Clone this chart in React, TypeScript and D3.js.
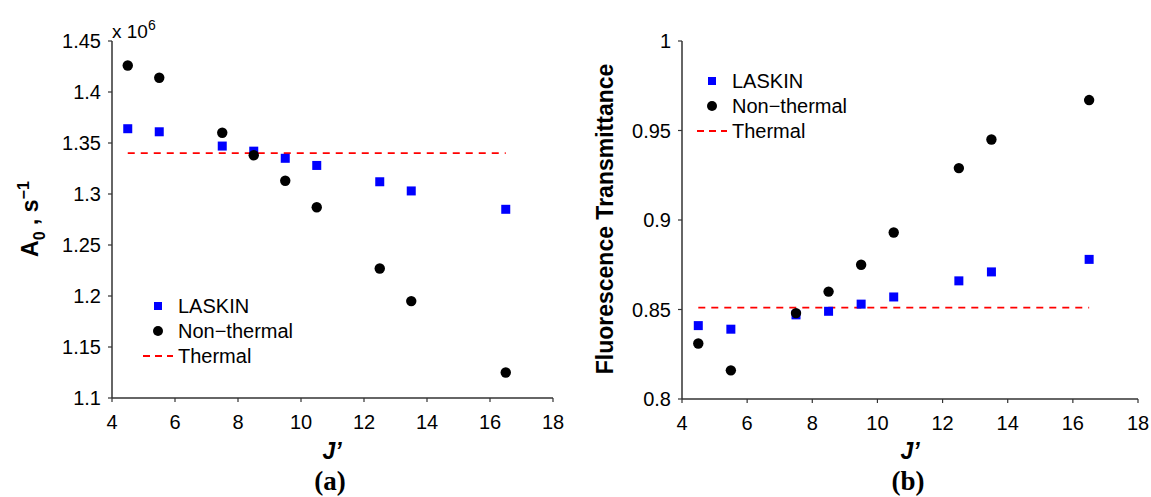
import React from "react";
import * as d3 from "d3";

const jValues = [4.5, 5.5, 7.5, 8.5, 9.5, 10.5, 12.5, 13.5, 16.5];
const aLaskin = [1.364, 1.361, 1.347, 1.342, 1.335, 1.328, 1.312, 1.303, 1.285];
const aNonThermal = [1.426, 1.414, 1.36, 1.338, 1.313, 1.287, 1.227, 1.195, 1.125];
const aThermal = 1.34;
const tLaskin = [0.841, 0.839, 0.847, 0.849, 0.853, 0.857, 0.866, 0.871, 0.878];
const tNonThermal = [0.831, 0.816, 0.848, 0.86, 0.875, 0.893, 0.929, 0.945, 0.967];
const tThermal = 0.851;
const xTicks = [4, 6, 8, 10, 12, 14, 16, 18];
const aTicks = [1.1, 1.15, 1.2, 1.25, 1.3, 1.35, 1.4, 1.45];
const tTicks = [0.8, 0.85, 0.9, 0.95, 1];
const legendLabels = ["LASKIN", "Non\u2212thermal", "Thermal"];

const FONT = "'Liberation Sans', Arial, sans-serif";
const SERIF = "'Liberation Serif', 'Times New Roman', serif";
const AXIS = "#333";

type PanelProps = {
  x0: number; x1: number; y0: number; y1: number;
  yDomain: [number, number]; yTicks: number[]; yFmt: (v: number) => string;
  laskin: number[]; nonThermal: number[]; thermal: number;
  legendX: number; legendY: number;
};

function Panel(p: PanelProps) {
  const x = d3.scaleLinear().domain([4, 18]).range([p.x0, p.x1]);
  const y = d3.scaleLinear().domain(p.yDomain).range([p.y1, p.y0]);
  const line = d3.line<number>().x((d) => x(d)).y(() => y(p.thermal));
  const thermalXs = [jValues[0], jValues[jValues.length - 1]];
  return (
    <g>
      <path d={line(thermalXs) || ""} stroke="#ff0000" strokeWidth={1.8} strokeDasharray="7,6" fill="none" />
      {jValues.map((j, i) => (
        <rect key={"s" + i} x={x(j) - 4.5} y={y(p.laskin[i]) - 4.5} width={9} height={9} fill="#0000ff" />
      ))}
      {jValues.map((j, i) => (
        <circle key={"c" + i} cx={x(j)} cy={y(p.nonThermal[i])} r={5.2} fill="#000" />
      ))}
      <line x1={p.x0} x2={p.x0} y1={p.y0} y2={p.y1} stroke={AXIS} strokeWidth={1.5} />
      <line x1={p.x0} x2={p.x1} y1={p.y1} y2={p.y1} stroke={AXIS} strokeWidth={1.5} />
      {xTicks.map((t) => (
        <g key={"xt" + t}>
          <line x1={x(t)} x2={x(t)} y1={p.y1} y2={p.y1 + 4} stroke={AXIS} strokeWidth={1.2} />
          <text x={x(t)} y={p.y1 + 31} textAnchor="middle" fontFamily={FONT} fontSize={20} fill="#000">{t}</text>
        </g>
      ))}
      {p.yTicks.map((t) => (
        <g key={"yt" + t}>
          <line x1={p.x0 - 4} x2={p.x0} y1={y(t)} y2={y(t)} stroke={AXIS} strokeWidth={1.2} />
          <text x={p.x0 - 11} y={y(t) + 7} textAnchor="end" fontFamily={FONT} fontSize={20} fill="#000">{p.yFmt(t)}</text>
        </g>
      ))}
      <g fontFamily={FONT} fontSize={20} fill="#000">
        <rect x={p.legendX - 4} y={p.legendY - 4} width={8} height={8} fill="#0000ff" />
        <text x={p.legendX + 20} y={p.legendY + 7}>{legendLabels[0]}</text>
        <circle cx={p.legendX} cy={p.legendY + 25} r={5} fill="#000" />
        <text x={p.legendX + 20} y={p.legendY + 32}>{legendLabels[1]}</text>
        <line x1={p.legendX - 15} x2={p.legendX + 15} y1={p.legendY + 50} y2={p.legendY + 50} stroke="#ff0000" strokeWidth={1.8} strokeDasharray="7,5" />
        <text x={p.legendX + 20} y={p.legendY + 57}>{legendLabels[2]}</text>
      </g>
    </g>
  );
}

export default function App() {
  const fmtA = (v: number) => String(+v.toFixed(2));
  const fmtT = (v: number) => String(+v.toFixed(2));
  return (
    <svg width={1151} height={497} style={{ position: "absolute", left: 0, top: 0, background: "#fff" }}>
      <Panel x0={112} x1={553} y0={41} y1={398} yDomain={[1.1, 1.45]} yTicks={aTicks} yFmt={fmtA}
        laskin={aLaskin} nonThermal={aNonThermal} thermal={aThermal} legendX={158} legendY={306} />
      <Panel x0={682} x1={1138} y0={41} y1={399} yDomain={[0.8, 1]} yTicks={tTicks} yFmt={fmtT}
        laskin={tLaskin} nonThermal={tNonThermal} thermal={tThermal} legendX={712} legendY={81} />
      <text x={112} y={38} fontFamily={FONT} fontSize={19} fill="#000">x 10<tspan dy={-8} fontSize={14}>6</tspan></text>
      <text transform="translate(38,219) rotate(-90)" textAnchor="middle" fontFamily={FONT} fontSize={23} fontWeight="bold" fill="#000">
        A<tspan dy={7} fontSize={16}>0</tspan><tspan dy={-7}> , s</tspan><tspan dy={-9} fontSize={16}>{"\u22121"}</tspan>
      </text>
      <text transform="translate(613,219) rotate(-90)" textAnchor="middle" fontFamily={FONT} fontSize={23} fontWeight="bold" fill="#000">Fluorescence Transmittance</text>
      <text x={332} y={459} textAnchor="middle" fontFamily={FONT} fontSize={23} fontWeight="bold" fontStyle="italic" fill="#000">J’</text>
      <text x={910} y={459} textAnchor="middle" fontFamily={FONT} fontSize={23} fontWeight="bold" fontStyle="italic" fill="#000">J’</text>
      <text x={330} y={490} textAnchor="middle" fontFamily={SERIF} fontSize={27} fontWeight="bold" fill="#000">(a)</text>
      <text x={908} y={490} textAnchor="middle" fontFamily={SERIF} fontSize={27} fontWeight="bold" fill="#000">(b)</text>
    </svg>
  );
}
